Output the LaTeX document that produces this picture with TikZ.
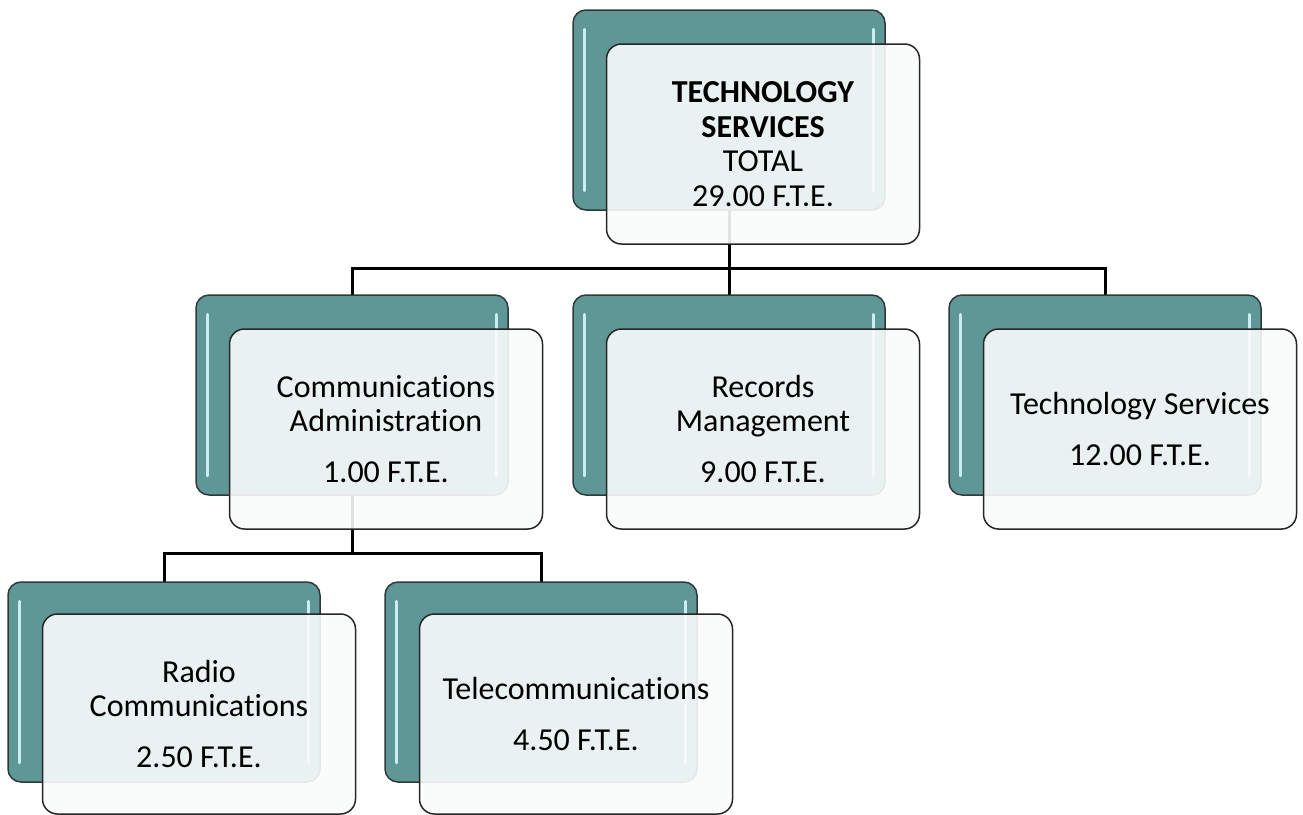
\documentclass[tikz,border=0pt]{standalone}
\usepackage{fontspec}
\setmainfont{Carlito}[Ligatures={NoCommon}]
\definecolor{tealbox}{HTML}{5F9797}
\definecolor{tealedge}{HTML}{2E3A3A}
\definecolor{hilite}{HTML}{C9EEF0}
\definecolor{frontfill}{HTML}{FAFBFB}
\tikzset{
  backbox/.style={draw=tealedge, line width=1.5pt, fill=tealbox, rounded corners=13pt,
    minimum width=312pt, minimum height=200pt, inner sep=0pt},
  frontbox/.style={draw=black!85, line width=1.5pt, fill=frontfill, fill opacity=0.9,
    text opacity=1, rounded corners=15pt, minimum width=313pt, minimum height=200pt,
    inner sep=0pt, align=center, font=\fontsize{32}{34.5}\selectfont},
  link/.style={line width=3pt, black},
  glint/.style={line width=3pt, hilite, line cap=round}
}
\begin{document}
\begin{tikzpicture}[x=1pt,y=-1pt]
\useasboundingbox (0,0) rectangle (1303,814);
\coordinate (cT) at (729,110);
\coordinate (cA) at (352,395);
\coordinate (cB) at (729,395);
\coordinate (cC) at (1105,395);
\coordinate (cD) at (164,682);
\coordinate (cE) at (541,682);
\coordinate (j1) at (729,268);
\coordinate (j2) at (352,553);
% connectors
\draw[link] (cT) -- (j1) -| (cA);
\draw[link] (j1) -| (cB);
\draw[link] (j1) -| (cC);
\draw[link] (cA) -- (j2) -| (cD);
\draw[link] (j2) -| (cE);
% back boxes
\foreach \n in {T,A,B,C,D,E}{
  \node[backbox] (bk\n) at (c\n) {};
  \draw[glint] ([shift={(12,20)}]bk\n.north west) -- ([shift={(12,-20)}]bk\n.south west);
  \draw[glint] ([shift={(-12,20)}]bk\n.north east) -- ([shift={(-12,-20)}]bk\n.south east);
}
% front boxes
\node[frontbox] (frT) at ([shift={(34,34)}]cT) {\textbf{TECHNOLOGY}\\\textbf{SERVICES}\\TOTAL\\29.00 F.T.E.};
\node[frontbox] (frA) at ([shift={(34,34)}]cA) {Communications\\Administration\\[16pt]1.00 F.T.E.};
\node[frontbox] (frB) at ([shift={(34,34)}]cB) {Records\\Management\\[16pt]9.00 F.T.E.};
\node[frontbox] (frC) at ([shift={(35,34)}]cC) {Technology Services\\[16pt]12.00 F.T.E.};
\node[frontbox] (frD) at ([shift={(35,32)}]cD) {Radio\\Communications\\[16pt]2.50 F.T.E.};
\node[frontbox] (frE) at ([shift={(35,32)}]cE) {Telecommunications\\[16pt]4.50 F.T.E.};
\end{tikzpicture}
\end{document}
